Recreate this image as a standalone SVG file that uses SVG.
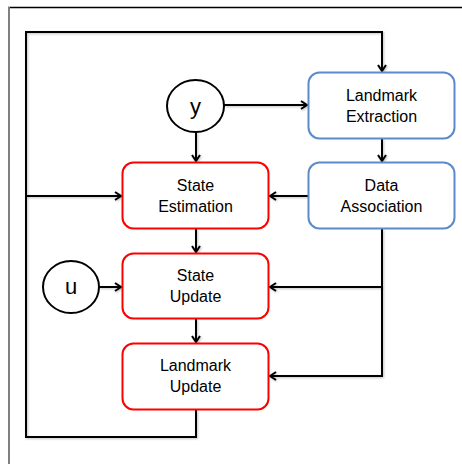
<svg xmlns="http://www.w3.org/2000/svg" width="462" height="464" viewBox="0 0 462 464">
  <defs>
    <marker id="arrow" viewBox="0 0 10 10" refX="9" refY="5" markerWidth="10" markerHeight="10" markerUnits="userSpaceOnUse" orient="auto">
      <path d="M3,1 L9,5 L3,9" fill="none" stroke="#000" stroke-width="2"/>
    </marker>
    <filter id="shadow" filterUnits="userSpaceOnUse" x="0" y="0" width="462" height="464">
      <feDropShadow dx="1" dy="1" stdDeviation="0.8" flood-color="#000" flood-opacity="0.25"/>
    </filter>
  </defs>
  <style>
    .wire { fill: none; stroke: #000; stroke-width: 2; filter: url(#shadow); }
    .arr { marker-end: url(#arrow); }
    .proc { fill: #fff; stroke: #ff0000; stroke-width: 2; }
    .meas { fill: #fff; stroke: #5b8bc8; stroke-width: 2; }
    .io { fill: #fff; stroke: #000; stroke-width: 2; }
    text { font-family: "Liberation Sans", Arial, sans-serif; font-size: 16px; fill: #000; text-anchor: middle; }
    .sym { font-size: 22px; }
  </style>

  <rect width="462" height="464" fill="#fff"/>
  <!-- outer frame -->
  <line x1="8" y1="7.5" x2="462" y2="7.5" stroke="#000" stroke-width="1.5"/>
  <line x1="9" y1="7" x2="9" y2="464" stroke="#808080" stroke-width="2"/>

  <g id="connectors">
    <path class="wire arr" d="M196,410 V437 H26 V32 H382 V71"/>
    <path class="wire arr" d="M26,196 H121"/>
    <path class="wire arr" d="M224,105 H307"/>
    <path class="wire arr" d="M196,132 V161"/>
    <path class="wire arr" d="M382,139 V161"/>
    <path class="wire arr" d="M308,196 H270"/>
    <path class="wire arr" d="M382,229 V376 H270"/>
    <path class="wire arr" d="M382,287 H270"/>
    <path class="wire arr" d="M196,229 V252"/>
    <path class="wire arr" d="M196,319 V342"/>
    <path class="wire arr" d="M99,287 H121"/>
  </g>

  <g id="input-y">
    <ellipse class="io" cx="195.5" cy="106" rx="28.5" ry="26"/>
    <text class="sym" x="195.5" y="114">y</text>
  </g>
  <g id="input-u">
    <ellipse class="io" cx="71" cy="287" rx="28" ry="26"/>
    <text class="sym" x="71" y="294">u</text>
  </g>

  <g id="landmark-extraction">
    <rect class="meas" x="308.5" y="72.5" width="146" height="66" rx="11"/>
    <text x="381.5" y="101">Landmark</text>
    <text x="381.5" y="122">Extraction</text>
  </g>
  <g id="data-association">
    <rect class="meas" x="308.5" y="162.5" width="146" height="66" rx="11"/>
    <text x="381.5" y="191">Data</text>
    <text x="381.5" y="212">Association</text>
  </g>
  <g id="state-estimation">
    <rect class="proc" x="122.5" y="162.5" width="146" height="66" rx="11"/>
    <text x="195.5" y="191">State</text>
    <text x="195.5" y="212">Estimation</text>
  </g>
  <g id="state-update">
    <rect class="proc" x="122.5" y="253.5" width="146" height="65" rx="11"/>
    <text x="195.5" y="281">State</text>
    <text x="195.5" y="302">Update</text>
  </g>
  <g id="landmark-update">
    <rect class="proc" x="122.5" y="343.5" width="146" height="66" rx="11"/>
    <text x="195.5" y="371">Landmark</text>
    <text x="195.5" y="392">Update</text>
  </g>
</svg>
